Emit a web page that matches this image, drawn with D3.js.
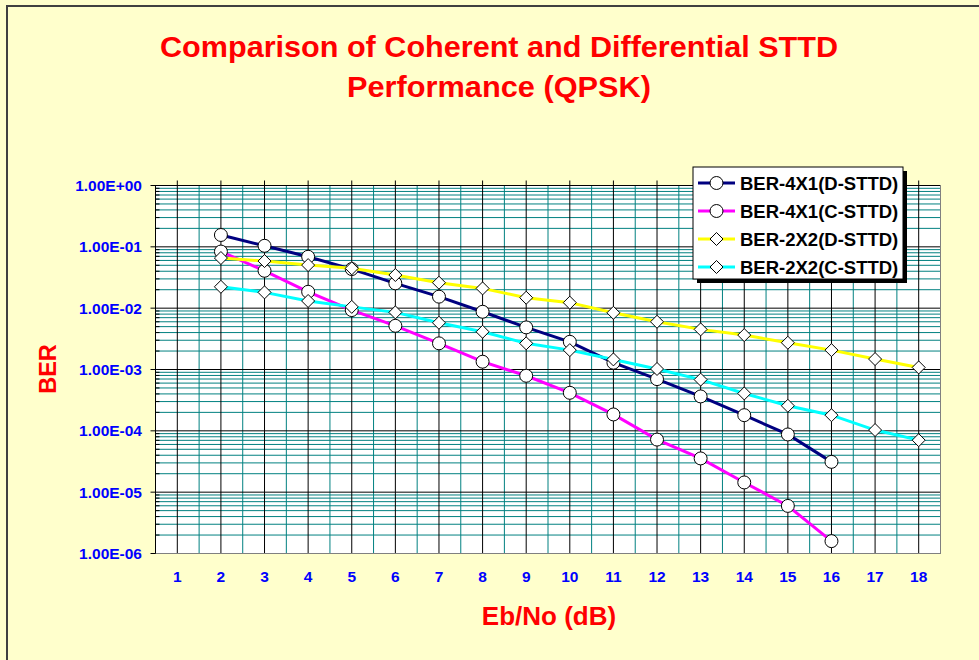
<!DOCTYPE html>
<html>
<head>
<meta charset="utf-8">
<script src="https://cdn.jsdelivr.net/npm/d3@7"></script>
<style>
  body { margin: 0; background: #ffffcc; }
  svg text { font-family: Arial, "Liberation Sans", sans-serif; font-weight: bold; }
</style>
</head>
<body>
<div id="chart"></div>
<script>
// Eb/No categories on the x axis
var xTicks = [1, 2, 3, 4, 5, 6, 7, 8, 9, 10, 11, 12, 13, 14, 15, 16, 17, 18];
var yTicks = [1, 1e-1, 1e-2, 1e-3, 1e-4, 1e-5, 1e-6];
var yTickLabels = ["1.00E+00", "1.00E-01", "1.00E-02", "1.00E-03", "1.00E-04", "1.00E-05", "1.00E-06"];

// x values of each series
var ebno4x1 = [2, 3, 4, 5, 6, 7, 8, 9, 10, 11, 12, 13, 14, 15, 16];
var ebno2x2 = [2, 3, 4, 5, 6, 7, 8, 9, 10, 11, 12, 13, 14, 15, 16, 17, 18];

// BER values
var ber4x1D = [0.156, 0.104, 0.0689, 0.0434, 0.0254, 0.0154, 0.00874, 0.00486, 0.00283, 0.00129, 6.97e-4, 3.64e-4, 1.80e-4, 8.73e-5, 3.12e-5];
var ber4x1C = [0.0838, 0.0407, 0.0185, 0.0093, 0.00516, 0.00267, 0.00134, 7.9e-4, 4.17e-4, 1.85e-4, 7.2e-5, 3.55e-5, 1.44e-5, 5.97e-6, 1.59e-6];
var ber2x2D = [0.0657, 0.0586, 0.0504, 0.0446, 0.0347, 0.0260, 0.0210, 0.0148, 0.0123, 0.0084, 0.0060, 0.00451, 0.00364, 0.00273, 0.00207, 0.00148, 0.00108];
var ber2x2C = [0.0223, 0.0181, 0.0131, 0.0105, 0.00854, 0.00578, 0.00412, 0.00267, 0.00207, 0.00146, 0.00102, 6.84e-4, 4.07e-4, 2.56e-4, 1.80e-4, 1.03e-4, 7.05e-5];

var seriesNames  = ["BER-4X1(D-STTD)", "BER-4X1(C-STTD)", "BER-2X2(D-STTD)", "BER-2X2(C-STTD)"];
var seriesColors = ["#000080", "#ff00ff", "#ffff00", "#00ffff"];
var seriesShapes = ["circle", "circle", "diamond", "diamond"];

var series = [
  { name: seriesNames[0], xs: ebno4x1, ys: ber4x1D, color: seriesColors[0], shape: seriesShapes[0] },
  { name: seriesNames[1], xs: ebno4x1, ys: ber4x1C, color: seriesColors[1], shape: seriesShapes[1] },
  { name: seriesNames[2], xs: ebno2x2, ys: ber2x2D, color: seriesColors[2], shape: seriesShapes[2] },
  { name: seriesNames[3], xs: ebno2x2, ys: ber2x2C, color: seriesColors[3], shape: seriesShapes[3] }
];

var width  = 979;
var height = 660;
var plot   = { left: 155.5, right: 940.5, top: 185.5, bottom: 553.5 };

var svg = d3.select("#chart").append("svg")
  .attr("width", width)
  .attr("height", height);

// chart background and outer frame
svg.append("rect")
  .attr("x", 0).attr("y", 0).attr("width", width).attr("height", height)
  .attr("fill", "#ffffcc");
svg.append("rect")
  .attr("x", 7).attr("y", 6).attr("width", width + 20).attr("height", height + 20)
  .attr("fill", "none").attr("stroke", "#404040").attr("stroke-width", 2);

var x = d3.scaleLinear().domain([0.5, 18.5]).range([plot.left, plot.right]);
var y = d3.scaleLog().domain([1e-6, 1]).range([plot.bottom, plot.top]);

// plot area
svg.append("rect")
  .attr("x", plot.left).attr("y", plot.top)
  .attr("width", plot.right - plot.left).attr("height", plot.bottom - plot.top)
  .attr("fill", "#ffffff");

var grid = svg.append("g");

// minor log gridlines (2..9 in every decade)
var minorValues = [];
yTicks.slice(1).forEach(function (d) {
  for (var m = 2; m <= 9; m++) minorValues.push(d * m);
});

grid.selectAll(".hminor").data(minorValues).enter().append("line")
  .attr("x1", plot.left).attr("x2", plot.right)
  .attr("y1", function (d) { return y(d); }).attr("y2", function (d) { return y(d); })
  .attr("stroke", "#008080").attr("stroke-width", 1);

// vertical gridlines between categories
var halfTicks = xTicks.slice(0, -1).map(function (d) { return d + 0.5; });
grid.selectAll(".vminor").data(halfTicks).enter().append("line")
  .attr("x1", function (d) { return x(d); }).attr("x2", function (d) { return x(d); })
  .attr("y1", plot.top).attr("y2", plot.bottom)
  .attr("stroke", "#008080").attr("stroke-width", 1);

// vertical gridlines on categories, with ticks above the plot
grid.selectAll(".vmajor").data(xTicks).enter().append("line")
  .attr("x1", function (d) { return x(d); }).attr("x2", function (d) { return x(d); })
  .attr("y1", plot.top - 5).attr("y2", plot.bottom)
  .attr("stroke", "#000000").attr("stroke-width", 1);

// decade gridlines
grid.selectAll(".hmajor").data(yTicks).enter().append("line")
  .attr("x1", plot.left - 5).attr("x2", plot.right)
  .attr("y1", function (d) { return y(d); }).attr("y2", function (d) { return y(d); })
  .attr("stroke", "#000000").attr("stroke-width", 1);

// minor ticks on the value axis
grid.selectAll(".mtick").data(minorValues).enter().append("line")
  .attr("x1", plot.left).attr("x2", plot.left + 4)
  .attr("y1", function (d) { return y(d); }).attr("y2", function (d) { return y(d); })
  .attr("stroke", "#000000").attr("stroke-width", 1);

// plot border
svg.append("line")
  .attr("x1", plot.right).attr("x2", plot.right).attr("y1", plot.top).attr("y2", plot.bottom)
  .attr("stroke", "#808080");
svg.append("line")
  .attr("x1", plot.left).attr("x2", plot.right).attr("y1", plot.bottom).attr("y2", plot.bottom)
  .attr("stroke", "#808080");
svg.append("line")
  .attr("x1", plot.left).attr("x2", plot.left).attr("y1", plot.top).attr("y2", plot.bottom)
  .attr("stroke", "#000000");

// axis labels
svg.selectAll(".ylab").data(yTicks).enter().append("text")
  .attr("x", 142)
  .attr("y", function (d) { return y(d); })
  .attr("dy", "0.36em")
  .attr("text-anchor", "end")
  .attr("font-size", 15.5)
  .attr("fill", "#0000ff")
  .text(function (d, i) { return yTickLabels[i]; });

svg.selectAll(".xlab").data(xTicks).enter().append("text")
  .attr("x", function (d) { return x(d); })
  .attr("y", 582)
  .attr("text-anchor", "middle")
  .attr("font-size", 15.5)
  .attr("fill", "#0000ff")
  .text(function (d) { return d; });

// series
var line = d3.line()
  .x(function (d) { return x(d[0]); })
  .y(function (d) { return y(d[1]); });

var symCircle  = d3.symbol().type(d3.symbolCircle).size(Math.PI * 42);
var symDiamond = function () {
  return "M0,-6.5L6.5,0L0,6.5L-6.5,0Z";
};

function markerPath(shape) {
  return shape === "circle" ? symCircle() : symDiamond();
}

series.forEach(function (s) {
  var pts = d3.zip(s.xs, s.ys);

  svg.append("path")
    .datum(pts)
    .attr("d", line)
    .attr("fill", "none")
    .attr("stroke", s.color)
    .attr("stroke-width", 3);

  svg.selectAll(null).data(pts).enter().append("path")
    .attr("d", markerPath(s.shape))
    .attr("transform", function (d) { return "translate(" + x(d[0]) + "," + y(d[1]) + ")"; })
    .attr("fill", "#ffffff")
    .attr("stroke", "#000000")
    .attr("stroke-width", 1);
});

// legend
var legend = svg.append("g").attr("transform", "translate(693,167)");

legend.append("rect")
  .attr("x", 4).attr("y", 4).attr("width", 210).attr("height", 112)
  .attr("fill", "#000000");
legend.append("rect")
  .attr("x", 0).attr("y", 0).attr("width", 210).attr("height", 112)
  .attr("fill", "#ffffff").attr("stroke", "#000000").attr("stroke-width", 1);

var item = legend.selectAll(".item").data(series).enter().append("g")
  .attr("transform", function (d, i) { return "translate(0," + (16 + i * 28) + ")"; });

item.append("line")
  .attr("x1", 5).attr("x2", 42).attr("y1", 0).attr("y2", 0)
  .attr("stroke", function (d) { return d.color; })
  .attr("stroke-width", 3);

item.append("path")
  .attr("d", function (d) { return markerPath(d.shape); })
  .attr("transform", "translate(23.5,0)")
  .attr("fill", "#ffffff")
  .attr("stroke", "#000000");

item.append("text")
  .attr("x", 47)
  .attr("y", 0)
  .attr("dy", "0.36em")
  .attr("font-size", 18.5)
  .attr("fill", "#000000")
  .text(function (d) { return d.name; });

// titles
svg.append("text")
  .attr("x", 499).attr("y", 57)
  .attr("text-anchor", "middle")
  .attr("font-size", 29)
  .attr("textLength", 678)
  .attr("lengthAdjust", "spacingAndGlyphs")
  .attr("fill", "#ff0000")
  .text("Comparison of Coherent and Differential STTD");
svg.append("text")
  .attr("x", 499).attr("y", 97)
  .attr("text-anchor", "middle")
  .attr("font-size", 29)
  .attr("textLength", 304)
  .attr("lengthAdjust", "spacingAndGlyphs")
  .attr("fill", "#ff0000")
  .text("Performance (QPSK)");

svg.append("text")
  .attr("transform", "translate(56,369) rotate(-90)")
  .attr("text-anchor", "middle")
  .attr("font-size", 23.5)
  .attr("fill", "#ff0000")
  .text("BER");

svg.append("text")
  .attr("x", 549).attr("y", 625)
  .attr("text-anchor", "middle")
  .attr("font-size", 26)
  .attr("fill", "#ff0000")
  .text("Eb/No (dB)");
</script>
</body>
</html>
